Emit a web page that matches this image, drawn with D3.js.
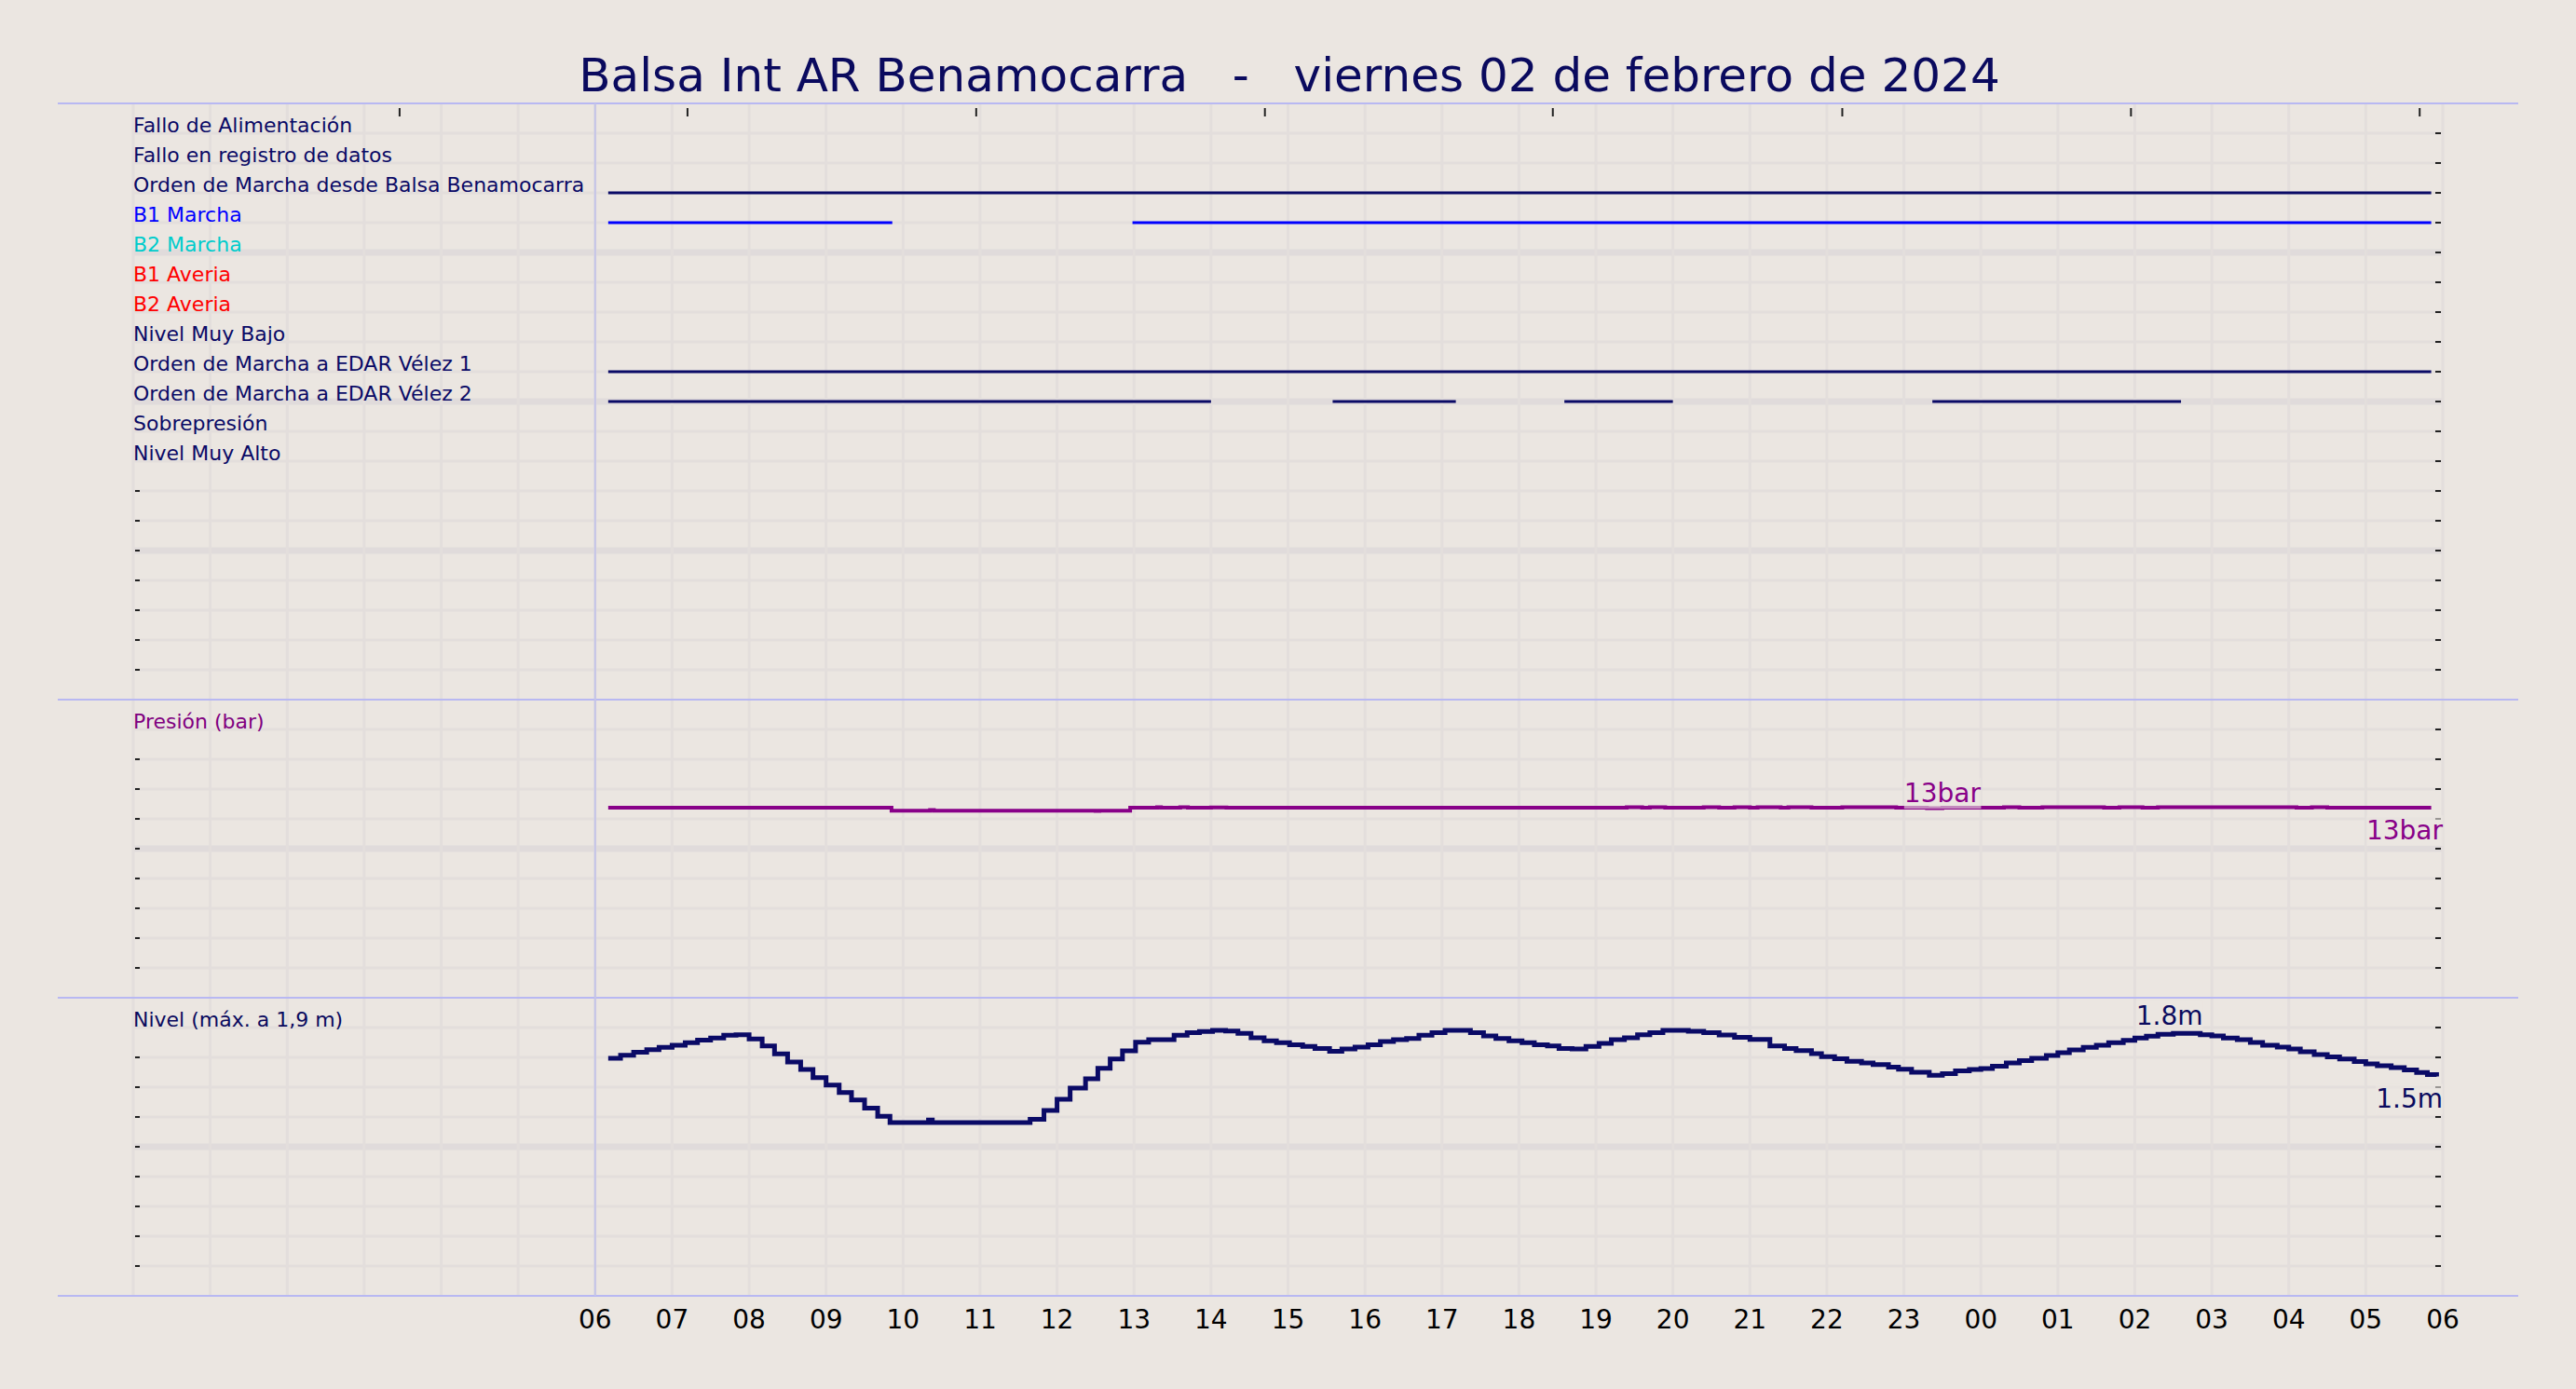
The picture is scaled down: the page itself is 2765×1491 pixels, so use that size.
<!DOCTYPE html>
<html><head><meta charset="utf-8">
<script src="https://cdn.jsdelivr.net/npm/d3@7"></script>
<style>body{margin:0;background:#ebe6e1;}svg{display:block;font-family:"DejaVu Sans",sans-serif;}</style>
</head><body>
<script>
// ---- data ----
const title = "Balsa Int AR Benamocarra   -   viernes 02 de febrero de 2024";
const signalNames = ["Fallo de Alimentación","Fallo en registro de datos","Orden de Marcha desde Balsa Benamocarra","B1 Marcha","B2 Marcha","B1 Averia","B2 Averia","Nivel Muy Bajo","Orden de Marcha a EDAR Vélez 1","Orden de Marcha a EDAR Vélez 2","Sobrepresión","Nivel Muy Alto"];
const signalColors = ["#0a0a66","#0a0a66","#0a0a66","#0000ff","#00cccc","#ff0000","#ff0000","#0a0a66","#0a0a66","#0a0a66","#0a0a66","#0a0a66"];
// intervals in hours after 06:00
const signalOn = [[],[],[[0.17,23.85]],[[0.17,3.86],[6.98,23.85]],[],[],[],[],[[0.17,23.85]],[[0.17,8.0],[9.58,11.18],[12.59,14.0],[17.37,20.6]],[],[]];
const hourLabels = ["06","07","08","09","10","11","12","13","14","15","16","17","18","19","20","21","22","23","00","01","02","03","04","05","06"];
const topTickHours = [-2.54,1.2,4.95,8.7,12.44,16.2,19.95,23.7];
const presH = [0.17,3.85,4.35,4.4,6.5,6.55,6.95,7.3,7.35,7.6,7.7,8.0,8.2,13.4,13.6,13.7,13.9,14.4,14.6,14.8,15.0,15.1,15.4,15.5,15.8,16.2,16.9,17.3,17.5,18.0,18.3,18.5,18.8,19.6,19.8,20.1,20.3,22.1,22.3,22.5,22.7,23.85];
const presV = [13.0,12.8,12.85,12.8,12.78,12.8,13.0,13.04,13.0,13.04,13.0,13.02,13.0,13.04,13.0,13.04,13.0,13.04,13.0,13.04,13.0,13.04,13.0,13.04,13.0,13.04,13.0,12.97,13.0,13.0,13.04,13.0,13.04,13.0,13.04,13.0,13.04,13.0,13.04,13.0,13.0,13.0];
const levH = [0.17,0.33,0.5,0.67,0.83,1.0,1.17,1.33,1.5,1.67,1.83,2.0,2.17,2.33,2.5,2.67,2.83,3.0,3.17,3.33,3.5,3.67,3.83,4.33,4.38,5.65,5.83,6.0,6.17,6.37,6.53,6.69,6.85,7.02,7.19,7.35,7.52,7.69,7.85,8.02,8.19,8.35,8.52,8.69,8.85,9.02,9.19,9.35,9.54,9.7,9.87,10.04,10.2,10.37,10.54,10.7,10.87,11.04,11.2,11.37,11.54,11.7,11.87,12.04,12.2,12.37,12.52,12.69,12.87,13.04,13.2,13.37,13.54,13.7,13.87,14.04,14.2,14.4,14.6,14.8,15.0,15.26,15.45,15.6,15.8,15.93,16.1,16.26,16.45,16.6,16.8,16.93,17.1,17.33,17.5,17.67,17.85,18.0,18.15,18.33,18.5,18.66,18.85,19.0,19.15,19.33,19.5,19.66,19.85,20.0,20.15,20.3,20.5,20.66,20.85,21.0,21.15,21.33,21.5,21.66,21.85,22.0,22.15,22.33,22.5,22.66,22.85,23.0,23.15,23.33,23.5,23.66,23.8,23.92];
const levV = [1.594,1.614,1.635,1.652,1.667,1.681,1.698,1.715,1.729,1.748,1.752,1.723,1.677,1.623,1.568,1.518,1.464,1.414,1.364,1.314,1.259,1.205,1.163,1.18,1.163,1.184,1.243,1.318,1.393,1.456,1.527,1.589,1.644,1.702,1.719,1.719,1.748,1.765,1.773,1.782,1.777,1.761,1.731,1.711,1.698,1.685,1.673,1.66,1.64,1.656,1.669,1.685,1.706,1.719,1.727,1.748,1.765,1.782,1.782,1.765,1.744,1.727,1.711,1.698,1.685,1.677,1.66,1.656,1.673,1.694,1.719,1.731,1.752,1.765,1.782,1.782,1.775,1.765,1.75,1.735,1.72,1.677,1.66,1.645,1.625,1.604,1.59,1.573,1.562,1.552,1.535,1.521,1.5,1.479,1.49,1.51,1.518,1.525,1.54,1.562,1.578,1.593,1.612,1.631,1.65,1.667,1.682,1.698,1.714,1.729,1.742,1.754,1.761,1.761,1.752,1.744,1.73,1.719,1.7,1.681,1.668,1.656,1.637,1.618,1.603,1.589,1.572,1.556,1.543,1.531,1.515,1.499,1.485,1.472];

// ---- layout ----
const W=2765,H=1491, L=143, R=2622, TOP=111, BOT=1391, NR=40, rowH=(BOT-TOP)/NR;
const svg=d3.select("body").append("svg").attr("width",W).attr("height",H);
svg.append("rect").attr("width",W).attr("height",H).attr("fill","#ebe6e1");
const x=d3.scaleLinear().domain([-6,24]).range([L,R]);
const gy=k=>TOP+k*rowH;
// grid
for(let k=1;k<NR;k++){
  if(k===20||k===30) continue;
  const thick=k%5===0;
  svg.append("line").attr("x1",L).attr("x2",R).attr("y1",gy(k)).attr("y2",gy(k)).attr("stroke",thick?"#e0dbdb":"#e3dedc").attr("stroke-width",thick?7:3);}
svg.append("g").selectAll("line").data(d3.range(-6,25)).join("line").attr("x1",d=>x(d)).attr("x2",d=>x(d)).attr("y1",TOP).attr("y2",BOT).attr("stroke","#e3dedc").attr("stroke-width",3);
// panel separators
[0,20,30,40].forEach(k=>svg.append("line").attr("x1",62).attr("x2",2703).attr("y1",gy(k)).attr("y2",gy(k)).attr("stroke","#b8b8f2").attr("stroke-width",2));
svg.append("line").attr("x1",x(0)).attr("x2",x(0)).attr("y1",TOP).attr("y2",BOT).attr("stroke","#c4c4e8").attr("stroke-width",2);
// ticks
for(let k=1;k<NR;k++){ if(k===20||k===30) continue;
  svg.append("line").attr("x1",R-8).attr("x2",R-2).attr("y1",gy(k)).attr("y2",gy(k)).attr("stroke","#222").attr("stroke-width",2);
  if(!(k<=12)&&k!==21&&k!==31) svg.append("line").attr("x1",L+2).attr("x2",L+7).attr("y1",gy(k)).attr("y2",gy(k)).attr("stroke","#222").attr("stroke-width",2);}
svg.append("g").selectAll("line").data(topTickHours).join("line").attr("x1",d=>x(d)).attr("x2",d=>x(d)).attr("y1",TOP+5).attr("y2",TOP+14).attr("stroke","#222").attr("stroke-width",2);
// title
svg.append("text").attr("x",1384).attr("y",98).attr("text-anchor","middle").attr("font-size",50).attr("fill","#0a0a5e").attr("xml:space","preserve").text(title);
// signals
signalNames.forEach((n,i)=>{
  svg.append("text").attr("x",L).attr("y",gy(i+1)-1).attr("font-size",22).attr("fill",signalColors[i]).text(n);
  signalOn[i].forEach(s=>svg.append("line").attr("x1",x(s[0])).attr("x2",x(s[1])).attr("y1",gy(i+1)).attr("y2",gy(i+1)).attr("stroke",signalColors[i]).attr("stroke-width",3));
});
// pressure
const yp=d3.scaleLinear().domain([0,20.4]).range([gy(30),gy(20)]);
svg.append("text").attr("x",L).attr("y",gy(21)-1).attr("font-size",22).attr("fill","#800080").text("Presión (bar)");
const pd=presH.map((h,i)=>[h,presV[i]]);
svg.append("path").datum(pd).attr("d",d3.line().x(d=>x(d[0])).y(d=>yp(d[1])).curve(d3.curveStepAfter)).attr("fill","none").attr("stroke","#880088").attr("stroke-width",4);
function lab(t,xx,yy,anchor,col){const g=svg.append("g");const tx=g.append("text").attr("x",xx).attr("y",yy).attr("text-anchor",anchor).attr("font-size",28).attr("fill",col).text(t);
  const b=tx.node().getBBox();g.insert("rect","text").attr("x",b.x).attr("y",b.y).attr("width",b.width).attr("height",b.height).attr("fill","#ebe6e1").attr("opacity",0.6);}
lab("13bar",x(17.5),yp(13)-6,"middle","#880088");
lab("13bar",R,yp(13)+34,"end","#880088");
// level
const yl=d3.scaleLinear().domain([0,2.0]).range([gy(40),gy(30)]);
svg.append("text").attr("x",L).attr("y",gy(31)-1).attr("font-size",22).attr("fill","#0a0a5e").text("Nivel (máx. a 1,9 m)");
const ld=levH.map((h,i)=>[h,levV[i]]);
lab("1.8m",x(20.45),yl(1.782)-6,"middle","#0a0a5e");
svg.append("path").datum(ld).attr("d",d3.line().x(d=>x(d[0])).y(d=>yl(d[1])).curve(d3.curveStepAfter)).attr("fill","none").attr("stroke","#0a0a66").attr("stroke-width",5);
lab("1.5m",R,yl(1.472)+34,"end","#0a0a5e");
// x axis labels
svg.append("g").selectAll("text").data(hourLabels).join("text").attr("x",(d,i)=>x(i)).attr("y",1426).attr("text-anchor","middle").attr("font-size",28).attr("fill","#000").text(d=>d);
</script>
</body></html>
